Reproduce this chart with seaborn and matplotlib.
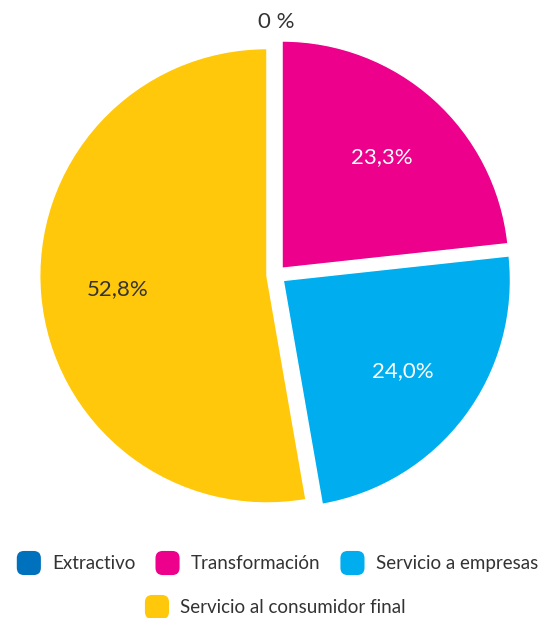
import matplotlib
matplotlib.use('Agg')
import matplotlib.pyplot as plt
import seaborn as sns
from matplotlib.patches import FancyBboxPatch, Patch
from matplotlib.legend_handler import HandlerPatch

# Datos
categorias = ['Extractivo', 'Transformación', 'Servicio a empresas', 'Servicio al consumidor final']
porcentajes = [0.0, 23.3, 24.0, 52.8]
colores = ['#0071BC', '#EC008C', '#00AEEF', '#FFC80B']

sns.set_theme(style='white')
plt.rcParams['font.family'] = ['Lato', 'DejaVu Sans']
plt.rcParams['font.weight'] = 'normal'

paleta = sns.color_palette(colores)

fig = plt.figure(figsize=(5.38, 6.18), dpi=100)
ax = fig.add_axes([-8 / 538, 59 / 618, 568 / 538, 568 / 618])

valores = iter(porcentajes)


def etiqueta(_):
    v = next(valores)
    return '' if v == 0 else f"{v:.1f}%".replace('.', ',')


wedges, texts, autotexts = ax.pie(
    porcentajes,
    colors=paleta,
    startangle=90,
    counterclock=False,
    explode=[0.04] * len(porcentajes),
    labels=['0 %' if v == 0 else '' for v in porcentajes],
    labeldistance=1.075,
    autopct=etiqueta,
    pctdistance=0.66,
    textprops={'fontsize': 16, 'color': '#333333'},
)
for t in texts:
    t.set_ha('center')
for t, c in zip(autotexts, ['#333333', 'white', 'white', '#333333']):
    t.set_color(c)

ax.set_xlim(-1.25, 1.25)
ax.set_ylim(-1.25, 1.25)
ax.set_aspect('equal')
ax.axis('off')


class HandlerRounded(HandlerPatch):
    def create_artists(self, legend, orig_handle, xdescent, ydescent,
                       width, height, fontsize, trans):
        s = min(width, height)
        p = FancyBboxPatch((-xdescent + (width - s) / 2, -ydescent + (height - s) / 2), s, s,
                           boxstyle=f'round,pad=0,rounding_size={s * 0.3}',
                           facecolor=orig_handle.get_facecolor(), edgecolor='none',
                           transform=trans)
        return [p]


handles = [Patch(facecolor=c, label=l) for c, l in zip(paleta, categorias)]
opts = dict(frameon=False, fontsize=13.5, handlelength=1.6, handleheight=1.6,
            handletextpad=0.45, columnspacing=0.9, labelcolor='#333333',
            handler_map={Patch: HandlerRounded()})

fig.legend(handles=handles[:3], ncol=3, loc='center', bbox_to_anchor=(276 / 538, 55 / 618), **opts)
fig.legend(handles=handles[3:], ncol=1, loc='center', bbox_to_anchor=(274 / 538, 11 / 618), **opts)

plt.savefig('out.png', dpi=100)
